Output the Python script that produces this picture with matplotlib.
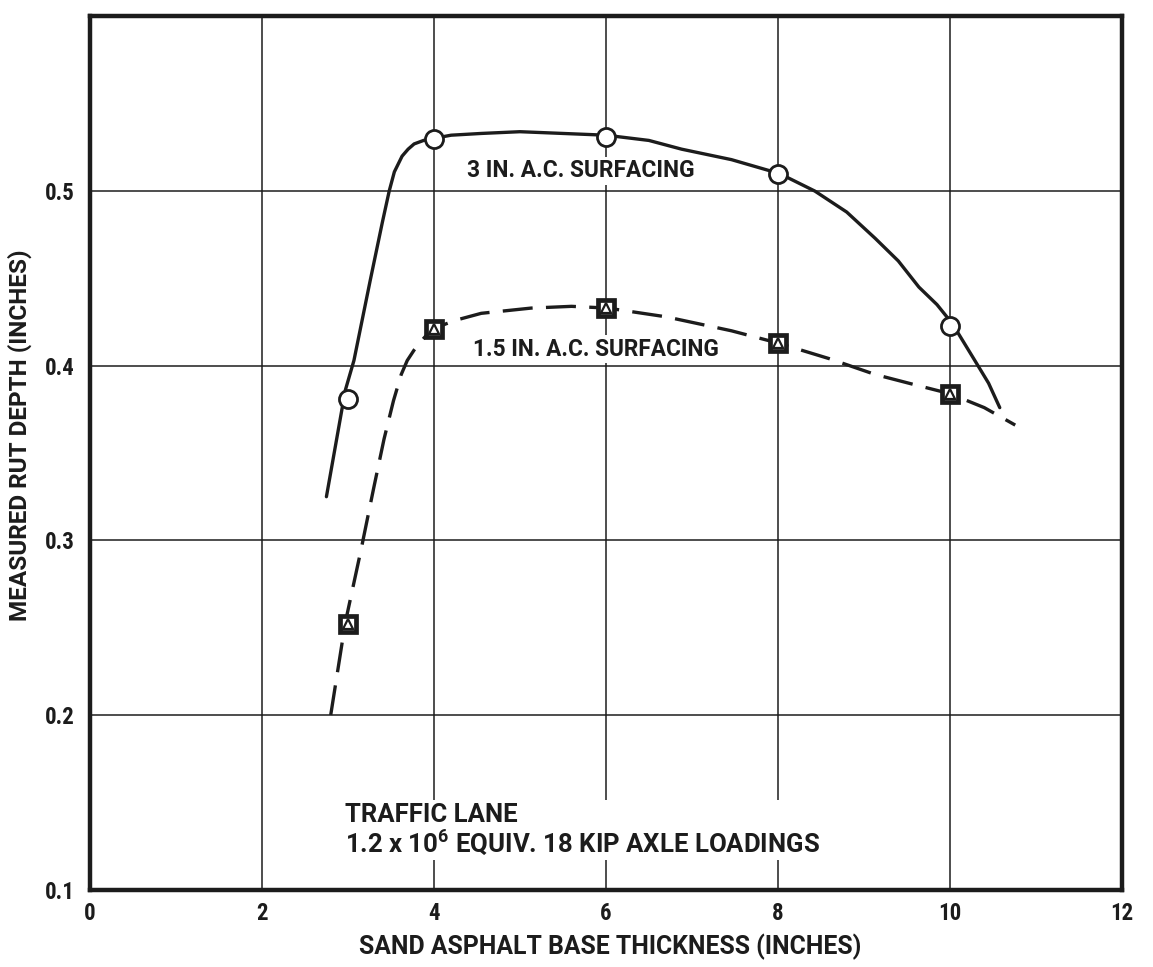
import matplotlib
matplotlib.use("Agg")
import matplotlib.pyplot as plt
from matplotlib import font_manager as fm

# ---- data ----
x_measured = [3, 4, 6, 8, 10]
rut_3in = [0.381, 0.530, 0.531, 0.510, 0.423]
rut_15in = [0.252, 0.421, 0.433, 0.413, 0.384]

# hand-drawn fitted curves (traced points)
curve_3in_x = [2.75, 2.97, 3.07, 3.26, 3.40, 3.48, 3.54, 3.63, 3.70, 3.77, 3.88, 3.98, 4.20,
               4.55, 5.00, 5.50, 6.00, 6.50, 6.88, 7.46, 8.02, 8.43, 8.80, 9.13, 9.40, 9.64,
               9.85, 10.03, 10.29, 10.45, 10.58]
curve_3in_y = [0.325, 0.386, 0.403, 0.449, 0.482, 0.500, 0.511, 0.520, 0.524, 0.527, 0.529,
               0.530, 0.532, 0.533, 0.534, 0.533, 0.532, 0.529, 0.524, 0.518, 0.510, 0.500,
               0.488, 0.473, 0.460, 0.445, 0.435, 0.424, 0.403, 0.390, 0.376]
curve_15in_x = [2.80, 2.97, 3.15, 3.30, 3.42, 3.53, 3.62, 3.69, 3.77, 3.85, 3.98, 4.25, 4.55,
                5.13, 5.60, 6.02, 6.70, 7.46, 8.00, 8.60, 9.13, 9.60, 10.00, 10.40, 10.76]
curve_15in_y = [0.200, 0.253, 0.294, 0.330, 0.358, 0.380, 0.395, 0.403, 0.409, 0.414, 0.421,
                0.426, 0.430, 0.433, 0.434, 0.433, 0.428, 0.420, 0.413, 0.404, 0.395, 0.389,
                0.384, 0.376, 0.366]

x_ticks = [0, 2, 4, 6, 8, 10, 12]
y_ticks = [0.1, 0.2, 0.3, 0.4, 0.5]
y_tick_labels = ["0.1", "0.2", "0.3", "0.4", "0.5"]

label_3in = "3 IN. A.C. SURFACING"
label_15in = "1.5 IN. A.C. SURFACING"
note_1 = "TRAFFIC LANE"
note_2 = r"1.2 x 10$^{\mathbf{6}}$ EQUIV. 18 KIP AXLE LOADINGS"
x_label = "SAND ASPHALT BASE THICKNESS (INCHES)"
y_label = "MEASURED RUT DEPTH (INCHES)"

# ---- fonts ----
names = {f.name for f in fm.fontManager.ttflist}
main_fam = "Roboto" if "Roboto" in names else "DejaVu Sans"
tick_fam = main_fam
for cand in ["Roboto Condensed", "Liberation Sans Narrow"]:
    if cand in names:
        tick_fam = cand
        break
plt.rcParams["font.family"] = [main_fam, "DejaVu Sans"]
plt.rcParams["font.weight"] = "bold"
plt.rcParams["mathtext.fontset"] = "custom"
plt.rcParams["mathtext.bf"] = main_fam + ":bold"
plt.rcParams["mathtext.rm"] = main_fam + ":bold"

ink = "#1c1c1c"

fig = plt.figure(figsize=(11.53, 9.67), dpi=100)
ax = fig.add_axes([0.078, 0.080, 0.895, 0.903])
ax.set_xlim(0, 12)
ax.set_ylim(0.1, 0.6)
ax.set_xticks(x_ticks)
ax.set_yticks(y_ticks)
ax.set_yticklabels(y_tick_labels)
ax.grid(True, color=ink, linewidth=1.1, zorder=0)
ax.set_axisbelow(True)
ax.tick_params(length=0, labelsize=16.5, colors=ink)
ax.tick_params(axis="x", pad=9)
ax.tick_params(axis="y", pad=11)
for lbl in ax.get_xticklabels() + ax.get_yticklabels():
    lbl.set_family([tick_fam, "DejaVu Sans"])
    lbl.set_fontweight("bold")
for s in ax.spines.values():
    s.set_linewidth(3.2)
    s.set_color(ink)

ax.plot(curve_3in_x, curve_3in_y, color=ink, lw=2.4, solid_capstyle="round",
        solid_joinstyle="round", zorder=3)
ax.plot(curve_15in_x, curve_15in_y, color=ink, lw=2.4, dashes=(9, 4), zorder=3)

ax.plot(x_measured, rut_3in, linestyle="none", marker="o", ms=13, mfc="white",
        mec=ink, mew=2.0, zorder=4)
ax.plot(x_measured, rut_15in, linestyle="none", marker="s", ms=12, mfc="white",
        mec=ink, mew=3.4, zorder=4)
ax.plot(x_measured, rut_15in, linestyle="none", marker="^", ms=6.5, mfc="none",
        mec=ink, mew=1.6, zorder=5)

bb = dict(facecolor="white", edgecolor="none", pad=2)
ax.text(4.38, 0.5115, label_3in, fontsize=16.4, color=ink, va="center", ha="left",
        bbox=bb, zorder=2)
ax.text(4.45, 0.4095, label_15in, fontsize=16.3, color=ink, va="center", ha="left",
        bbox=bb, zorder=2)
ax.text(2.97, 0.1497, note_1 + "\n" + note_2, fontsize=18.5, color=ink, va="top", ha="left",
        linespacing=1.0, bbox=bb, zorder=2)

ax.set_xlabel(x_label, fontsize=17.8, color=ink, fontweight="bold")
ax.set_ylabel(y_label, fontsize=17.5, color=ink, fontweight="bold")
ax.xaxis.set_label_coords(0.504, -0.0505)
ax.yaxis.set_label_coords(-0.0565, 0.52)

fig.savefig("out.png", dpi=100, facecolor="white")
